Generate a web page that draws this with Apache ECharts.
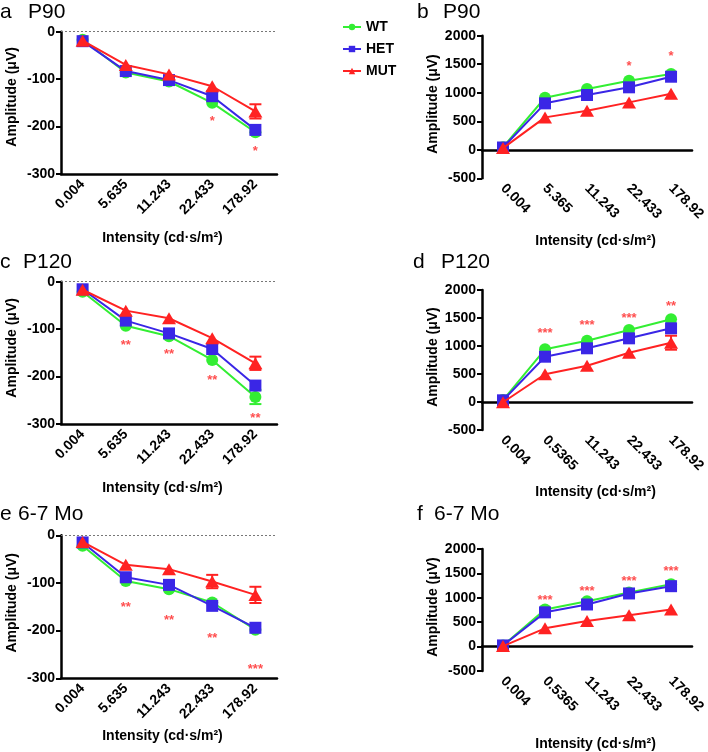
<!DOCTYPE html>
<html><head><meta charset="utf-8">
<script src="https://cdn.jsdelivr.net/npm/echarts@6/dist/echarts.min.js"></script>
<style>html,body{margin:0;padding:0;background:#fff}#c{width:708px;height:752px}</style>
</head><body><div id="c"></div>
<script>
// ---------- categories ----------
const catsLeft = ['0.004', '5.635', '11.243', '22.433', '178.92'];
const catsB = ['0.004', '5.365', '11.243', '22.433', '178.92'];
const catsDF = ['0.004', '0.5365', '11.243', '22.433', '178.92'];

// ---------- panel a : P90 (negative wave) ----------
const aWT = [-17, -86, -105, -150, -212];
const aHET = [-20, -83, -102, -136, -207];
const aMUT = [-19, -70, -90, -115, -168];
const aMUTerr = [null, null, null, null, 15];
const aStarY = [null, null, null, -182, -247];
const aStarTxt = ['', '', '', '*', '*'];

// ---------- panel b : P90 (positive wave) ----------
const bWT = [45, 912, 1065, 1210, 1328];
const bHET = [40, 814, 960, 1095, 1281];
const bMUT = [30, 568, 684, 831, 982];
const bStarY = [null, null, null, 1516, 1691];
const bStarTxt = ['', '', '', '*', '*'];

// ---------- panel c : P120 (negative wave) ----------
const cWT = [-21, -93, -115, -165, -243];
const cHET = [-16, -82, -109, -142, -219];
const cMUT = [-17, -61, -77, -119, -172];
const cWTerr = [null, null, null, null, 15];
const cMUTerr = [null, null, null, null, 14];
const cStarY = [null, -129, -146, -202, -281];
const cStarTxt = ['', '**', '**', '**', '**'];

// ---------- panel d : P120 (positive wave) ----------
const dWT = [35, 941, 1095, 1286, 1477];
const dHET = [30, 809, 959, 1137, 1316];
const dMUT = [-5, 495, 648, 880, 1059];
const dMUTerr = [null, null, null, null, 125];
const dStarY = [null, 1273, 1416, 1553, 1762];
const dStarTxt = ['', '***', '***', '***', '**'];

// ---------- panel e : 6-7 Mo (negative wave) ----------
const eWT = [-22, -96, -113, -141, -198];
const eHET = [-15, -88, -104, -148, -194];
const eMUT = [-14, -62, -71, -97, -125];
const eMUTerr = [null, null, null, 14, 17];
const eStarY = [null, -146, -172, -211, -276];
const eStarTxt = ['', '**', '**', '**', '***'];

// ---------- panel f : 6-7 Mo (positive wave) ----------
const fWT = [24, 760, 929, 1107, 1280];
const fHET = [24, 702, 863, 1089, 1238];
const fMUT = [10, 375, 523, 643, 762];
const fStarY = [null, 1000, 1191, 1405, 1607];
const fStarTxt = ['', '***', '***', '***', '***'];

const negTicks = {min: -300, max: 0, interval: 100};
const posTicks = {min: -500, max: 2000, interval: 500};

// ---------- styling ----------
const FONT = '"Liberation Sans", Arial, Helvetica, sans-serif';
const COL = {WT: '#33ee33', HET: '#3a26e6', MUT: '#ff2222'};
const SYM = {WT: 'circle', HET: 'rect', MUT: 'triangle'};
const SYMSIZE = {WT: 12, HET: 12, MUT: [14, 12]};

const panels = [
  {cats: catsLeft, data: {WT: aWT, HET: aHET, MUT: aMUT}, err: {MUT: aMUTerr}, starY: aStarY, starTxt: aStarTxt, neg: true,
   grid: {left: 61, top: 31.7, width: 216, height: 142.3}, xGap: 57, xPad: [0, 13, 0, 0], yPad: [0, 0, 0, 12]},
  {cats: catsB, data: {WT: bWT, HET: bHET, MUT: bMUT}, err: {}, starY: bStarY, starTxt: bStarTxt, neg: false,
   grid: {left: 482, top: 35.7, width: 214, height: 142.6}, xGap: 56, xPad: [0, 0, 0, 17], yPad: [0, 0, 0, 6]},
  {cats: catsLeft, data: {WT: cWT, HET: cHET, MUT: cMUT}, err: {WT: cWTerr, MUT: cMUTerr}, starY: cStarY, starTxt: cStarTxt, neg: true,
   grid: {left: 61, top: 281.7, width: 216, height: 142.3}, xGap: 57, xPad: [0, 13, 0, 0], yPad: [0, 0, 0, 10]},
  {cats: catsDF, data: {WT: dWT, HET: dHET, MUT: dMUT}, err: {MUT: dMUTerr}, starY: dStarY, starTxt: dStarTxt, neg: false,
   grid: {left: 482, top: 290, width: 214, height: 140}, xGap: 55, xPad: [0, 0, 0, 17], yPad: [0, 0, 0, 6]},
  {cats: catsLeft, data: {WT: eWT, HET: eHET, MUT: eMUT}, err: {MUT: eMUTerr}, starY: eStarY, starTxt: eStarTxt, neg: true,
   grid: {left: 61, top: 535.3, width: 216, height: 143}, xGap: 51, xPad: [0, 13, 0, 0], yPad: [0, 0, 0, 8]},
  {cats: catsDF, data: {WT: fWT, HET: fHET, MUT: fMUT}, err: {}, starY: fStarY, starTxt: fStarTxt, neg: false,
   grid: {left: 482, top: 549, width: 214, height: 140}, xGap: 66, xPad: [0, 0, 0, 17], yPad: [0, 0, 0, 6]}
];

const titles = [
  {letter: 'a', lx: 0, label: 'P90', tx: 28, y: 12.5},
  {letter: 'b', lx: 417, label: 'P90', tx: 443, y: 12},
  {letter: 'c', lx: 0, label: 'P120', tx: 23, y: 262},
  {letter: 'd', lx: 413, label: 'P120', tx: 441, y: 262},
  {letter: 'e', lx: 0, label: '6-7 Mo', tx: 18, y: 514},
  {letter: 'f', lx: 417, label: '6-7 Mo', tx: 434, y: 514}
];

const grids = [], xAxes = [], yAxes = [], series = [], graphics = [];
const axisText = {fontFamily: FONT, fontWeight: 'bold', fontSize: 14, color: '#000'};

panels.forEach((p, i) => {
  grids.push(p.grid);
  xAxes.push({
    type: 'category', gridIndex: i, data: p.cats,
    axisLine: {onZero: !p.neg, lineStyle: {color: '#000', width: 2.5}},
    axisTick: {alignWithLabel: true, length: 5, lineStyle: {color: '#000', width: 2}},
    axisLabel: Object.assign({rotate: p.neg ? 45 : -45, margin: 8, interval: 0}, axisText),
    splitLine: {show: false},
    name: 'Intensity (cd·s/m²)', nameLocation: 'middle', nameGap: p.xGap,
    nameTextStyle: Object.assign({padding: p.xPad}, axisText)
  });
  const tk = p.neg ? negTicks : posTicks;
  yAxes.push({
    type: 'value', gridIndex: i, min: tk.min, max: tk.max, interval: tk.interval,
    axisLine: {show: true, onZero: false, lineStyle: {color: '#000', width: 2.5}},
    axisTick: {show: true, length: 5, lineStyle: {color: '#000', width: 2}},
    axisLabel: Object.assign({margin: 6, formatter: v => String(v)}, axisText),
    splitLine: {show: false},
    name: 'Amplitude (μV)', nameLocation: 'middle', nameGap: 42,
    nameTextStyle: Object.assign({padding: p.yPad}, axisText)
  });

  // error bars (beneath markers)
  Object.keys(p.err).forEach(g => {
    const vals = p.data[g];
    const pts = [];
    p.err[g].forEach((e, k) => { if (e != null) pts.push([k, vals[k], e]); });
    series.push({
      type: 'custom', name: 'err_' + i + '_' + g, xAxisIndex: i, yAxisIndex: i, z: 1, silent: true,
      renderItem: (params, api) => {
        const x = api.value(0), y = api.value(1), e = api.value(2);
        const t = api.coord([x, y + e]), b = api.coord([x, y - e]);
        const w = 6, st = {stroke: COL[g], lineWidth: 2};
        return {type: 'group', children: [
          {type: 'line', shape: {x1: t[0], y1: t[1], x2: b[0], y2: b[1]}, style: st},
          {type: 'line', shape: {x1: t[0] - w, y1: t[1], x2: t[0] + w, y2: t[1]}, style: st},
          {type: 'line', shape: {x1: b[0] - w, y1: b[1], x2: b[0] + w, y2: b[1]}, style: st}
        ]};
      },
      data: pts
    });
  });

  ['WT', 'HET', 'MUT'].forEach((g, gi) => {
    const s = {
      type: 'line', name: g, xAxisIndex: i, yAxisIndex: i, z: 2 + gi,
      data: p.data[g], symbol: SYM[g], symbolSize: SYMSIZE[g], showAllSymbol: true,
      lineStyle: {color: COL[g], width: 2}, itemStyle: {color: COL[g]},
      emphasis: {disabled: true}
    };
    if (p.neg && g === 'WT') {
      s.markLine = {
        silent: true, symbol: ['none', 'none'], label: {show: false},
        lineStyle: {type: [2, 2], color: '#777', width: 1},
        data: [{yAxis: 0}]
      };
    }
    series.push(s);
  });

  // significance stars
  const sPts = [], sTxt = [];
  p.starY.forEach((v, k) => { if (v != null) { sPts.push([k, v]); sTxt.push(p.starTxt[k]); } });
  series.push({
    type: 'scatter', name: 'stars_' + i, xAxisIndex: i, yAxisIndex: i, z: 10, silent: true,
    symbol: 'circle', symbolSize: 2, itemStyle: {color: 'rgba(0,0,0,0)'},
    label: {show: true, position: 'inside', offset: [0, 3], color: '#ff2222', fontSize: 13, fontWeight: 'bold', fontFamily: FONT,
            formatter: q => sTxt[q.dataIndex]},
    data: sPts
  });
});

titles.forEach(t => {
  graphics.push({type: 'text', x: t.lx, y: t.y, silent: true,
    style: {text: t.letter, font: '21px ' + FONT, fill: '#000', verticalAlign: 'middle', align: 'left'}});
  graphics.push({type: 'text', x: t.tx, y: t.y, silent: true,
    style: {text: t.label, font: '21px ' + FONT, fill: '#000', verticalAlign: 'middle', align: 'left'}});
});

const chart = echarts.init(document.getElementById('c'), null, {renderer: 'canvas'});
chart.setOption({
  animation: false,
  backgroundColor: '#fff',
  textStyle: {fontFamily: FONT},
  legend: {
    data: ['WT', 'HET', 'MUT'], orient: 'vertical', left: 337, top: 15,
    itemWidth: 18, itemHeight: 8, itemGap: 8, selectedMode: false,
    textStyle: {fontFamily: FONT, fontWeight: 'bold', fontSize: 14, color: '#000'}
  },
  grid: grids, xAxis: xAxes, yAxis: yAxes, series: series, graphic: graphics
});
</script>
</body></html>
